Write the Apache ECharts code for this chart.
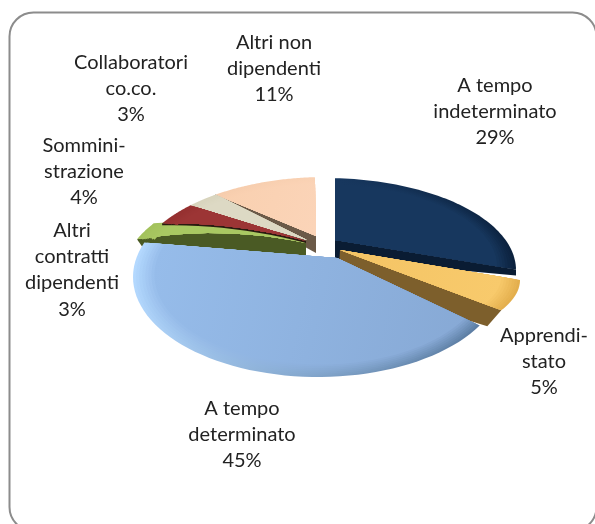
<!DOCTYPE html>
<html>
<head>
<meta charset="utf-8">
<style>
  body { margin: 0; background: #fff; }
  #chart { width: 595px; height: 524px; }
</style>
<script src="https://cdn.jsdelivr.net/npm/echarts@6/dist/echarts.min.js"></script>
</head>
<body>
<div id="chart"></div>
<script>
const categories = [
  'A tempo\nindeterminato',
  'Apprendi-\nstato',
  'A tempo\ndeterminato',
  'Altri\ncontratti\ndipendenti',
  'Sommini-\nstrazione',
  'Collaboratori\nco.co.',
  'Altri non\ndipendenti'
]
const values = [29, 5, 45, 3, 4, 3, 11]
const total = values.reduce((a, b) => a + b, 0)

// label anchor: centre x, top y of the first line
const labelPos = [
  [495, 72], [544, 322], [242, 395], [72, 217], [84, 132], [131, 49], [274, 29]
]

// the pie is a tilted 3D one: every slice has its own apex, rim ellipse and cut face
const slices = [
  { apex: [335, 240], rim: [325, 270, 191, 92], da: [3, -7], wall: { edge: 'end', apex: [0, 19], rim: [0, 6], color: '#0a1c33' }, edge: ['#17375e', '#0b213d'], face: ['#17375e', '#17375e'] },
  { apex: [340, 250], rim: [330, 280, 190, 70], da: [-6.6, 0], wall: { edge: 'end', apex: [-2, 30], rim: [-14, 16], color: '#7d5f2c' }, edge: ['#f0bd5c', '#e3ae4c'], face: ['#f4c465', '#f8ca6c'] },
  { apex: [337, 258], rim: [318, 277, 185, 100], da: [3.4, -2], edge: ['#b4d9ff', '#5a7ba1'], face: ['#96bcea', '#87a9d5'] },
  { apex: [306, 243], rim: [325, 277, 203, 100], da: [0, 0], bow: 8, bowEnd: 8, wall: { edge: 'start', apex: [0, 14], rim: [7, 10], bow: 0, color: '#4a5a24' }, edge: ['#a3c25c', '#a3c25c'], face: ['#a9c862', '#a9c862'] },
  { apex: [306, 241], rim: [325, 277, 193, 100], da: [0, 0], bow: 5, wall: { edge: 'start', apex: [0, 2], rim: [0, 2], bow: 5, color: '#2a1a10' }, edge: ['#953030', '#953030'], face: ['#9c3535', '#9c3535'] },
  { apex: [307, 240], rim: [325, 277, 193, 100], da: [0, 0], edge: ['#d8d4bd', '#d8d4bd'], face: ['#ddd9c4', '#ddd9c4'] },
  { apex: [316, 236], rim: [325, 277, 193, 100], da: [0, -3], wall: { edge: 'start', apex: [0, 17], rim: [-3, 2], color: '#6b5a48' }, edge: ['#f6ccac', '#fad2b4'], face: ['#f9d0b0', '#fbd4b8'] }
]
const drawOrder = [6, 5, 3, 4, 0, 1, 2]
const bevelSteps = 8

const cumulative = []
values.reduce((sum, v, i) => {
  cumulative[i] = [sum / total * 360, (sum + v) / total * 360]
  return sum + v
}, 0)

// perspective squeezes the sides of the disc a bit
const warp = deg => deg - 8 * Math.sin(deg * Math.PI / 180)

const rimPoint = (rim, deg) => {
  const a = deg * Math.PI / 180
  return [rim[0] + rim[2] * Math.sin(a), rim[1] - rim[3] * Math.cos(a)]
}

// points strictly between the apex and a rim point, bent upwards by bow px
const bowPoints = (apex, p, bow) => {
  const pts = []
  if (!bow) return pts
  for (let k = 1; k < 12; k++) {
    const t = k / 12
    pts.push([
      apex[0] + (p[0] - apex[0]) * t,
      apex[1] + (p[1] - apex[1]) * t - bow * 4 * t * (1 - t)
    ])
  }
  return pts
}

const renderSlice = (params, api) => {
  const i = api.value(0)
  const s = slices[i]
  const start = warp(cumulative[i][0]) + s.da[0]
  const end = warp(cumulative[i][1]) + s.da[1]
  const children = []

  if (s.wall) {
    const a = s.wall.edge === 'start' ? start : end
    const p = rimPoint(s.rim, a)
    const lowRim = [p[0] + s.wall.rim[0], p[1] + s.wall.rim[1]]
    const lowApex = [s.apex[0] + s.wall.apex[0], s.apex[1] + s.wall.apex[1]]
    children.push({
      type: 'polygon',
      shape: { points: [
        s.apex,
        ...bowPoints(s.apex, p, s.bow),
        p,
        lowRim,
        ...bowPoints(lowApex, lowRim, s.wall.bow).reverse(),
        lowApex
      ] },
      style: { fill: s.wall.color }
    })
  }

  for (let step = 0; step < bevelSteps; step++) {
    const t = step / (bevelSteps - 1)
    const scale = 1 - step * 0.015
    const points = [s.apex, ...bowPoints(s.apex, rimPoint(s.rim, start), s.bow)]
    for (let k = 0; k <= 60; k++) {
      const pt = rimPoint(s.rim, start + (end - start) * k / 60)
      // shrink towards the apex for the bevel layers
      points.push([
        s.apex[0] + (pt[0] - s.apex[0]) * scale,
        s.apex[1] + (pt[1] - s.apex[1]) * scale
      ])
    }
    points.push(...bowPoints(s.apex, rimPoint(s.rim, end), s.bowEnd).reverse())
    children.push({
      type: 'polygon',
      shape: { points },
      style: {
        fill: new echarts.graphic.LinearGradient(0, 0.2, 1, 0.8, [
          { offset: 0, color: echarts.color.lerp(t, [s.edge[0], s.face[0]]) },
          { offset: 1, color: echarts.color.lerp(t, [s.edge[1], s.face[1]]) }
        ])
      }
    })
  }
  return { type: 'group', children }
}

const textElements = categories.map((name, i) => ({
  type: 'text',
  x: labelPos[i][0],
  y: labelPos[i][1],
  style: {
    text: name + '\n' + values[i] + '%',
    font: '20px Lato',
    lineHeight: 26.4,
    fill: '#222',
    align: 'center',
    verticalAlign: 'top'
  }
}))

const chart = echarts.init(document.getElementById('chart'), null, { renderer: 'canvas' })
chart.setOption({
  animation: false,
  backgroundColor: '#fff',
  graphic: [
    {
      type: 'rect',
      shape: { x: 9.5, y: 12.5, width: 587, height: 518.5, r: 24 },
      style: { fill: '#fff', stroke: '#8c8c8c', lineWidth: 2 },
      z: -1
    },
    ...textElements
  ],
  series: [
    {
      type: 'custom',
      coordinateSystem: 'none',
      silent: true,
      data: drawOrder.map(i => [i]),
      renderItem: renderSlice
    }
  ]
})
</script>
</body>
</html>
